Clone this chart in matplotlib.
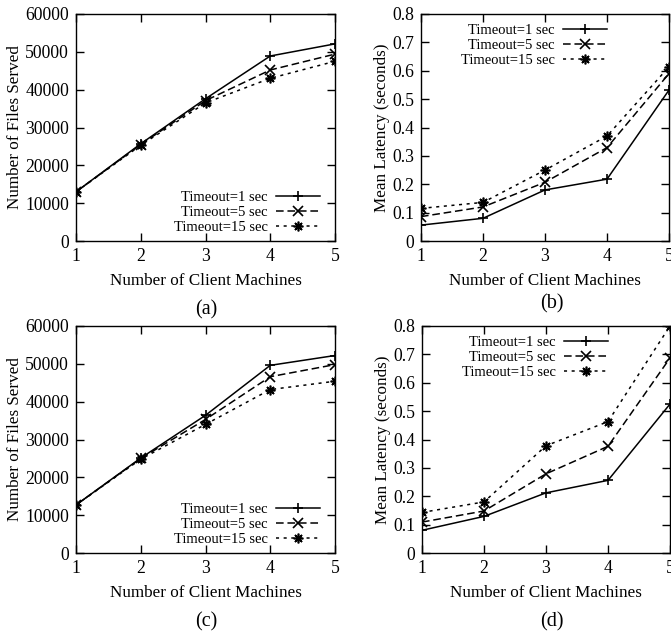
"""Files served and mean latency vs number of client machines, four panels"""
import matplotlib
matplotlib.use('Agg')
import matplotlib.pyplot as plt

plt.rcParams['font.family'] = ['Liberation Serif', 'DejaVu Serif']

clients = [1, 2, 3, 4, 5]
labels = ['Timeout=1 sec', 'Timeout=5 sec', 'Timeout=15 sec']

# (a) files served, first setup
files_a_1 = [13000, 25700, 37600, 48900, 52100]
files_a_5 = [13000, 25500, 37100, 45200, 49400]
files_a_15 = [13000, 25300, 36500, 43000, 47500]

# (b) mean latency, first setup
lat_b_1 = [0.056, 0.080, 0.180, 0.218, 0.532]
lat_b_5 = [0.086, 0.120, 0.207, 0.329, 0.590]
lat_b_15 = [0.115, 0.136, 0.250, 0.370, 0.614]

# (c) files served, second setup
files_c_1 = [12700, 25100, 36400, 49600, 52200]
files_c_5 = [12700, 25000, 35300, 46600, 49800]
files_c_15 = [12700, 24800, 34000, 43200, 45400]

# (d) mean latency, second setup
lat_d_1 = [0.080, 0.129, 0.212, 0.256, 0.525]
lat_d_5 = [0.109, 0.148, 0.279, 0.376, 0.687]
lat_d_15 = [0.143, 0.180, 0.378, 0.463, 0.800]

styles = [
    dict(linestyle='-', marker='+'),
    dict(linestyle=(0, (5, 2.5)), marker='x'),
    dict(linestyle=(0, (2, 3)), marker=(8, 2, 0)),
]

W, H = 671, 635
fig = plt.figure(figsize=(W / 100, H / 100), dpi=100)


def make_axes(left, right, top, bottom):
    return fig.add_axes([left / W, 1 - bottom / H, (right - left) / W, (bottom - top) / H])


def draw(ax, series, ylim, yticks, ylabel, legend_loc, legend_anchor):
    for vals, lab, st in zip(series, labels, styles):
        ax.plot(clients, vals, color='black', lw=1.1, markersize=7, mew=1.2,
                label=lab, **st)
    ax.set_xlim(1, 5)
    ax.set_ylim(*ylim)
    ax.set_xticks(clients)
    ax.set_yticks(yticks)
    ax.tick_params(direction='in', top=True, right=True, labelsize=12.7, length=6,
                   width=1, pad=5)
    for s in ax.spines.values():
        s.set_linewidth(1)
    ax.set_xlabel('Number of Client Machines', fontsize=12.3, labelpad=6)
    ax.set_ylabel(ylabel, fontsize=12.3, labelpad=1.5)
    ax.legend(loc=legend_loc, bbox_to_anchor=legend_anchor, frameon=False,
              markerfirst=False, fontsize=10.5, handlelength=3.0, handletextpad=0.6,
              labelspacing=0.12, borderaxespad=0.0, borderpad=0.0)


files_ticks = [0, 10000, 20000, 30000, 40000, 50000, 60000]
lat_ticks = [0, 0.1, 0.2, 0.3, 0.4, 0.5, 0.6, 0.7, 0.8]

ax_a = make_axes(76, 335, 14, 241)
draw(ax_a, [files_a_1, files_a_5, files_a_15], (0, 60000), files_ticks,
     'Number of Files Served', 'lower right', (0.942, 0.03))
ax_a.set_yticklabels([str(t) for t in files_ticks])

ax_b = make_axes(421, 669, 14, 241)
draw(ax_b, [lat_b_1, lat_b_5, lat_b_15], (0, 0.8), lat_ticks,
     'Mean Latency (seconds)', 'upper right', (0.75, 0.955))
ax_b.set_yticklabels(['0'] + [f'{t:.1f}' for t in lat_ticks[1:]])

ax_c = make_axes(76, 335, 326, 553)
draw(ax_c, [files_c_1, files_c_5, files_c_15], (0, 60000), files_ticks,
     'Number of Files Served', 'lower right', (0.942, 0.03))
ax_c.set_yticklabels([str(t) for t in files_ticks])

ax_d = make_axes(422, 670, 326, 553)
draw(ax_d, [lat_d_1, lat_d_5, lat_d_15], (0, 0.8), lat_ticks,
     'Mean Latency (seconds)', 'upper right', (0.75, 0.955))
ax_d.set_yticklabels(['0'] + [f'{t:.1f}' for t in lat_ticks[1:]])

# sub-captions
fig.text(206 / W, 1 - 310 / H, '(a)', ha='center', va='center', fontsize=14.5)
fig.text(552 / W, 1 - 304 / H, '(b)', ha='center', va='center', fontsize=14.5)
fig.text(206 / W, 1 - 622 / H, '(c)', ha='center', va='center', fontsize=14.5)
fig.text(552 / W, 1 - 622 / H, '(d)', ha='center', va='center', fontsize=14.5)

fig.savefig('out.png', dpi=100)
